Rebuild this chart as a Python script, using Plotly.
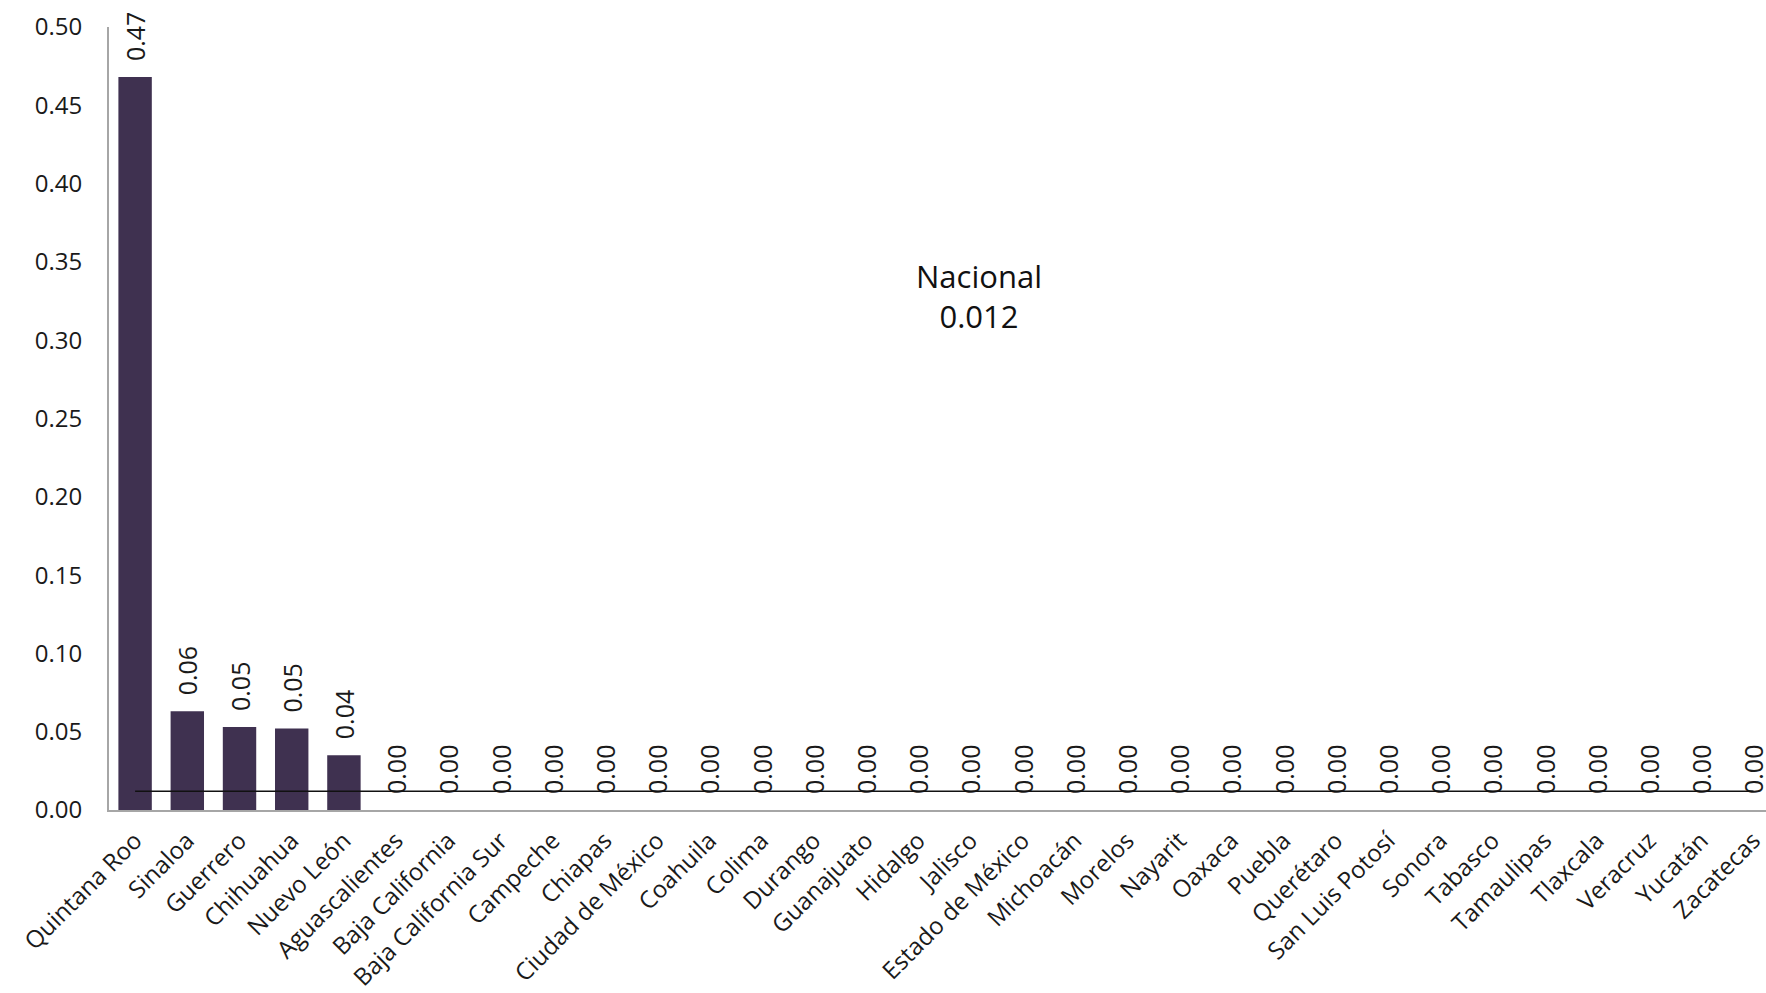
import plotly.graph_objects as go

estados = ["Quintana Roo", "Sinaloa", "Guerrero", "Chihuahua", "Nuevo León",
           "Aguascalientes", "Baja California", "Baja California Sur", "Campeche",
           "Chiapas", "Ciudad de México", "Coahuila", "Colima", "Durango",
           "Guanajuato", "Hidalgo", "Jalisco", "Estado de México", "Michoacán",
           "Morelos", "Nayarit", "Oaxaca", "Puebla", "Querétaro", "San Luis Potosí",
           "Sonora", "Tabasco", "Tamaulipas", "Tlaxcala", "Veracruz", "Yucatán",
           "Zacatecas"]
valores = [0.468, 0.063, 0.053, 0.052, 0.035] + [0.0] * 27
nacional = 0.012
nacional_serie = [nacional] * len(estados)

FONT = "Open Sans"
BAR = "#3f3150"

fig = go.Figure()
fig.add_trace(go.Bar(
    x=estados, y=valores,
    marker=dict(color=BAR, line=dict(width=0)),
    width=0.64,
    texttemplate="\u00a0\u00a0%{y:.2f}", textposition="outside", textangle=-90,
    constraintext="none",
    textfont=dict(family=FONT, size=25, color="#1a1a1a"),
    cliponaxis=False,
    showlegend=False,
))
fig.add_trace(go.Scatter(
    x=estados, y=nacional_serie, mode="lines",
    line=dict(color="#111111", width=1.6),
    showlegend=False, cliponaxis=True,
))
fig.add_annotation(
    x=16.17, y=0.328, xref="x", yref="y",
    text=f"Nacional<br>{nacional}", showarrow=False,
    font=dict(family=FONT, size=31, color="#111111"),
    align="center",
)
fig.update_layout(
    width=1766, height=993,
    margin=dict(l=109, r=0, t=27, b=183, autoexpand=False),
    plot_bgcolor="white", paper_bgcolor="white",
    font=dict(family=FONT, color="#1a1a1a"),
    bargap=0.36,
)
fig.update_xaxes(
    range=[-0.5, 31.24], tickangle=-45, automargin=False,
    tickfont=dict(family=FONT, size=24, color="#1a1a1a"),
    showline=True, linecolor="#a6a6a6", linewidth=2,
    showgrid=False, ticks="", ticklabelstandoff=5,
)
fig.update_yaxes(
    range=[0, 0.5], dtick=0.05, tickformat=".2f", automargin=False,
    tickfont=dict(family=FONT, size=24, color="#1a1a1a"),
    showline=True, linecolor="#a6a6a6", linewidth=2,
    showgrid=False, zeroline=False, ticks="", ticklabelstandoff=20,
)
fig.write_html(
    "out.html",
    config={"displayModeBar": False},
    post_script="document.body.style.margin='0';document.body.style.overflow='hidden';",
)
